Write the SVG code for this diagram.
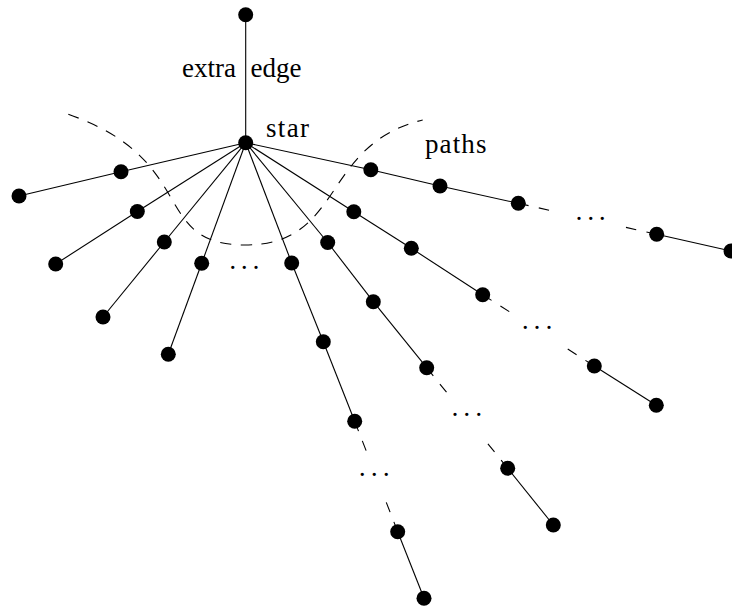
<svg xmlns="http://www.w3.org/2000/svg" width="732" height="607" viewBox="0 0 732 607">
  <style>
    .edge { stroke: #000; stroke-width: 1.1; fill: none; }
    .dash { stroke-dasharray: 10.5 10.5; }
    .region { stroke: #000; stroke-width: 1.1; fill: none; stroke-dasharray: 11 9.5; }
    .node circle { fill: #000; }
    text { fill: #000; font-size: 27px; }
    .dots { text-anchor: middle; }
  </style>

  <!-- dashed outline around the inner ring of the star -->
  <g id="region">
    <path class="region" d="M68.3,114.3 C200,160 150,245 245,245 C345,245 320,145 422.7,120"/>
  </g>

  <g id="connectors">
    <!-- extra edge -->
    <line class="edge" x1="245.7" y1="142.7" x2="245.7" y2="14.7"/>
    <!-- star spokes -->
    <line class="edge" x1="245.7" y1="142.7" x2="121" y2="171.7"/>
    <line class="edge" x1="245.7" y1="142.7" x2="137.3" y2="211.5"/>
    <line class="edge" x1="245.7" y1="142.7" x2="164.3" y2="242"/>
    <line class="edge" x1="245.7" y1="142.7" x2="201.7" y2="263.3"/>
    <line class="edge" x1="245.7" y1="142.7" x2="291.7" y2="263"/>
    <line class="edge" x1="245.7" y1="142.7" x2="327.7" y2="242.5"/>
    <line class="edge" x1="245.7" y1="142.7" x2="353.8" y2="211.8"/>
    <line class="edge" x1="245.7" y1="142.7" x2="370.8" y2="169.7"/>
    <!-- short pendant paths -->
    <line class="edge" x1="121" y1="171.7" x2="19" y2="196"/>
    <line class="edge" x1="137.3" y1="211.5" x2="55.7" y2="264"/>
    <line class="edge" x1="164.3" y1="242" x2="103" y2="317"/>
    <line class="edge" x1="201.7" y1="263.3" x2="168.3" y2="354.3"/>
    <!-- long path 1 -->
    <line class="edge" x1="291.7" y1="263" x2="323.3" y2="341.7"/>
    <line class="edge" x1="323.3" y1="341.7" x2="354.7" y2="421.3"/>
    <line class="edge dash" x1="354.7" y1="421.3" x2="366.3" y2="451.1"/>
    <line class="edge dash" x1="397.7" y1="531.7" x2="386.1" y2="501.9"/>
    <line class="edge" x1="397.7" y1="531.7" x2="424" y2="598.3"/>
    <!-- long path 2 -->
    <line class="edge" x1="327.7" y1="242.5" x2="373.3" y2="301.7"/>
    <line class="edge" x1="373.3" y1="301.7" x2="426.7" y2="367.7"/>
    <line class="edge dash" x1="426.7" y1="367.7" x2="446.8" y2="392.6"/>
    <line class="edge dash" x1="507.7" y1="468.3" x2="487.6" y2="443.4"/>
    <line class="edge" x1="507.7" y1="468.3" x2="553.3" y2="525"/>
    <!-- long path 3 -->
    <line class="edge" x1="353.8" y1="211.8" x2="411.3" y2="248.3"/>
    <line class="edge" x1="411.3" y1="248.3" x2="482.7" y2="294.7"/>
    <line class="edge dash" x1="482.7" y1="294.7" x2="509.7" y2="311.9"/>
    <line class="edge dash" x1="594.3" y1="366" x2="567.3" y2="348.8"/>
    <line class="edge" x1="594.3" y1="366" x2="656.3" y2="405.3"/>
    <!-- long path 4 -->
    <line class="edge" x1="370.8" y1="169.7" x2="440" y2="186"/>
    <line class="edge" x1="440" y1="186" x2="518.3" y2="203.3"/>
    <line class="edge dash" x1="518.3" y1="203.3" x2="549.5" y2="210.3"/>
    <line class="edge dash" x1="656.7" y1="234.3" x2="625.5" y2="227.3"/>
    <line class="edge" x1="656.7" y1="234.3" x2="731" y2="251"/>
  </g>

  <!-- ellipses -->
  <g id="ellipses" font-family="Liberation Serif, DejaVu Serif, serif">
    <text class="dots" x="232.7 244.3 256" y="277.4">···</text>
    <text class="dots" x="362.3 374.3 386.3" y="484.4">···</text>
    <text class="dots" x="455 466.7 478.7" y="424">···</text>
    <text class="dots" x="525.3 537 549" y="337.4">···</text>
    <text class="dots" x="579 590.7 602.3" y="228.4">···</text>
  </g>

  <g id="nodes">
    <g id="top" class="node"><circle cx="245.7" cy="14.7" r="7.5"/></g>
    <g id="center" class="node"><circle cx="245.7" cy="142.7" r="7.5"/></g>
    <g id="a1" class="node"><circle cx="121" cy="171.7" r="7.5"/></g>
    <g id="a2" class="node"><circle cx="19" cy="196" r="7.5"/></g>
    <g id="b1" class="node"><circle cx="137.3" cy="211.5" r="7.5"/></g>
    <g id="b2" class="node"><circle cx="55.7" cy="264" r="7.5"/></g>
    <g id="c1" class="node"><circle cx="164.3" cy="242" r="7.5"/></g>
    <g id="c2" class="node"><circle cx="103" cy="317" r="7.5"/></g>
    <g id="d1" class="node"><circle cx="201.7" cy="263.3" r="7.5"/></g>
    <g id="d2" class="node"><circle cx="168.3" cy="354.3" r="7.5"/></g>
    <g id="e1" class="node"><circle cx="291.7" cy="263" r="7.5"/></g>
    <g id="e2" class="node"><circle cx="323.3" cy="341.7" r="7.5"/></g>
    <g id="e3" class="node"><circle cx="354.7" cy="421.3" r="7.5"/></g>
    <g id="e4" class="node"><circle cx="397.7" cy="531.7" r="7.5"/></g>
    <g id="e5" class="node"><circle cx="424" cy="598.3" r="7.5"/></g>
    <g id="f1" class="node"><circle cx="327.7" cy="242.5" r="7.5"/></g>
    <g id="f2" class="node"><circle cx="373.3" cy="301.7" r="7.5"/></g>
    <g id="f3" class="node"><circle cx="426.7" cy="367.7" r="7.5"/></g>
    <g id="f4" class="node"><circle cx="507.7" cy="468.3" r="7.5"/></g>
    <g id="f5" class="node"><circle cx="553.3" cy="525" r="7.5"/></g>
    <g id="g1" class="node"><circle cx="353.8" cy="211.8" r="7.5"/></g>
    <g id="g2" class="node"><circle cx="411.3" cy="248.3" r="7.5"/></g>
    <g id="g3" class="node"><circle cx="482.7" cy="294.7" r="7.5"/></g>
    <g id="g4" class="node"><circle cx="594.3" cy="366" r="7.5"/></g>
    <g id="g5" class="node"><circle cx="656.3" cy="405.3" r="7.5"/></g>
    <g id="h1" class="node"><circle cx="370.8" cy="169.7" r="7.5"/></g>
    <g id="h2" class="node"><circle cx="440" cy="186" r="7.5"/></g>
    <g id="h3" class="node"><circle cx="518.3" cy="203.3" r="7.5"/></g>
    <g id="h4" class="node"><circle cx="656.7" cy="234.3" r="7.5"/></g>
    <g id="h5" class="node"><circle cx="731" cy="251" r="7.5"/></g>
  </g>

  <g id="labels" font-family="Liberation Serif, DejaVu Serif, serif">
    <text x="182" y="77.3">extra <tspan x="250.5">edge</tspan></text>
    <text x="266" y="136.7" textLength="43">star</text>
    <text x="425" y="153.3" textLength="61.5">paths</text>
  </g>
</svg>
